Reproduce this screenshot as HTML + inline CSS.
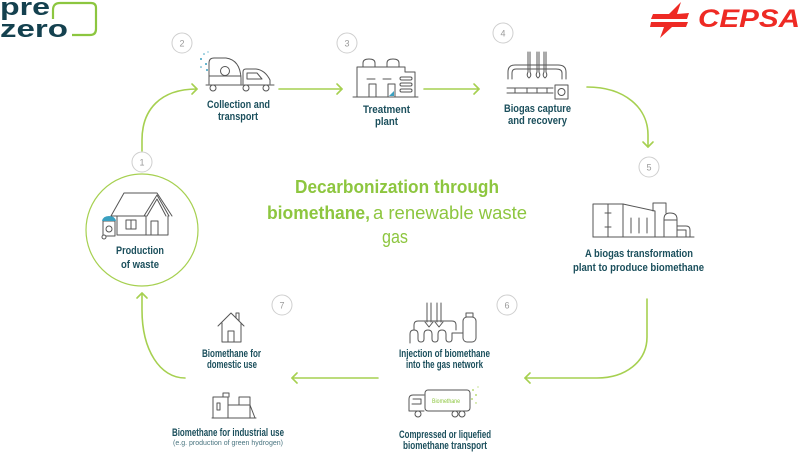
<!DOCTYPE html>
<html><head><meta charset="utf-8"><style>
html,body{margin:0;padding:0;background:#fff;}
svg{display:block;}
.lb{font-family:"Liberation Sans",sans-serif;font-weight:bold;font-size:11px;fill:#1b4f5c;}
.num{font-family:"Liberation Sans",sans-serif;font-size:9px;fill:#9a9a9a;}
.ic{fill:none;stroke:#555;stroke-width:1;stroke-linejoin:round;stroke-linecap:round;}
.ar{fill:none;stroke:#a6d050;stroke-width:1.6;stroke-linecap:round;stroke-linejoin:round;}
.nc{fill:#fff;stroke:#cfcfcf;stroke-width:1;}
</style></head><body>
<svg width="800" height="454" viewBox="0 0 800 454" xmlns="http://www.w3.org/2000/svg">
<!-- prezero logo -->
<text x="0" y="15" font-family="Liberation Sans,sans-serif" font-weight="bold" font-size="24" fill="#14414f" textLength="50" lengthAdjust="spacingAndGlyphs">pre</text>
<text x="0" y="37" font-family="Liberation Sans,sans-serif" font-weight="bold" font-size="24" fill="#14414f" textLength="68" lengthAdjust="spacingAndGlyphs">zero</text>
<path d="M53,19 V10 Q53,3 60,3 H91 Q96,3 96,8 V29 Q96,35 90,35 H72" fill="none" stroke="#8cc63f" stroke-width="2.2"/>
<!-- CEPSA logo -->
<path d="M653,14 L669,14 L681,2 L677,14 L689,13 L687,19 L651,19 Z" fill="#ee2a24"/>
<path d="M651,22 L688,22 L686,27 L672,27 L660,38 L664,27 L650,27 Z" fill="#ee2a24"/>
<text x="698" y="27" font-family="Liberation Sans,sans-serif" font-weight="bold" font-style="italic" font-size="25" fill="#ee2a24" textLength="102" lengthAdjust="spacingAndGlyphs">CEPSA</text>

<!-- arrows -->
<path class="ar" d="M142,151 V140 C142,110 160,89 197,89"/>
<path class="ar" d="M192,84 L197,89 L192,94"/>
<path class="ar" d="M279,89 H342"/><path class="ar" d="M337,84 L342,89 L337,94"/>
<path class="ar" d="M424,89 H479"/><path class="ar" d="M474,84 L479,89 L474,94"/>
<path class="ar" d="M587,87 C625,87 648,108 648,135 V147"/><path class="ar" d="M643,142 L648,147 L653,142"/>
<path class="ar" d="M647,299 V337 C647,362 625,378 597,378 H525"/><path class="ar" d="M530,373 L525,378 L530,383"/>
<path class="ar" d="M378,378 H292"/><path class="ar" d="M297,373 L292,378 L297,383"/>
<path class="ar" d="M185,378 C160,378 142,350 142,310 V293"/><path class="ar" d="M137,298 L142,293 L147,298"/>

<!-- production circle -->
<circle cx="142" cy="230" r="56" fill="#fff" stroke="#a6d050" stroke-width="1.2"/>

<!-- number circles -->
<circle class="nc" cx="142" cy="162" r="10"/><text class="num" x="142" y="165.5" text-anchor="middle">1</text>
<circle class="nc" cx="182" cy="43" r="10"/><text class="num" x="182" y="46.5" text-anchor="middle">2</text>
<circle class="nc" cx="347" cy="43" r="10"/><text class="num" x="347" y="46.5" text-anchor="middle">3</text>
<circle class="nc" cx="503" cy="33" r="10"/><text class="num" x="503" y="36.5" text-anchor="middle">4</text>
<circle class="nc" cx="649" cy="167" r="10"/><text class="num" x="649" y="170.5" text-anchor="middle">5</text>
<circle class="nc" cx="507" cy="305" r="10"/><text class="num" x="507" y="308.5" text-anchor="middle">6</text>
<circle class="nc" cx="282" cy="305" r="10"/><text class="num" x="282" y="308.5" text-anchor="middle">7</text>

<!-- title -->
<text x="295" y="193" font-family="Liberation Sans,sans-serif" font-weight="bold" font-size="18" fill="#8dc63f" textLength="204" lengthAdjust="spacingAndGlyphs">Decarbonization through</text>
<text x="267" y="219" font-family="Liberation Sans,sans-serif" font-weight="bold" font-size="18" fill="#8dc63f" textLength="103" lengthAdjust="spacingAndGlyphs">biomethane,</text>
<text x="373" y="219" font-family="Liberation Sans,sans-serif" font-size="18" fill="#8dc63f" textLength="154" lengthAdjust="spacingAndGlyphs">a renewable waste</text>
<text x="382" y="243" font-family="Liberation Sans,sans-serif" font-size="18" fill="#8dc63f" textLength="26" lengthAdjust="spacingAndGlyphs">gas</text>

<!-- labels -->
<text class="lb" x="207" y="108" textLength="63" lengthAdjust="spacingAndGlyphs">Collection and</text>
<text class="lb" x="218" y="120" textLength="40" lengthAdjust="spacingAndGlyphs">transport</text>
<text class="lb" x="363" y="113" textLength="47" lengthAdjust="spacingAndGlyphs">Treatment</text>
<text class="lb" x="375" y="125" textLength="23" lengthAdjust="spacingAndGlyphs">plant</text>
<text class="lb" x="504" y="112" textLength="67" lengthAdjust="spacingAndGlyphs">Biogas capture</text>
<text class="lb" x="508" y="124" textLength="59" lengthAdjust="spacingAndGlyphs">and recovery</text>
<text class="lb" x="116" y="254" textLength="48" lengthAdjust="spacingAndGlyphs">Production</text>
<text class="lb" x="121" y="268" textLength="38" lengthAdjust="spacingAndGlyphs">of waste</text>
<text class="lb" x="585" y="257" textLength="108" lengthAdjust="spacingAndGlyphs">A biogas transformation</text>
<text class="lb" x="573" y="271" textLength="131" lengthAdjust="spacingAndGlyphs">plant to produce biomethane</text>
<text class="lb" x="399" y="357" font-size="10" textLength="91" lengthAdjust="spacingAndGlyphs">Injection of biomethane</text>
<text class="lb" x="406" y="368" font-size="10" textLength="77" lengthAdjust="spacingAndGlyphs">into the gas network</text>
<text class="lb" x="399" y="438" font-size="10" textLength="92" lengthAdjust="spacingAndGlyphs">Compressed or liquefied</text>
<text class="lb" x="403" y="449" font-size="10" textLength="84" lengthAdjust="spacingAndGlyphs">biomethane transport</text>
<text class="lb" x="202" y="357" font-size="10" textLength="59" lengthAdjust="spacingAndGlyphs">Biomethane for</text>
<text class="lb" x="207" y="368" font-size="10" textLength="50" lengthAdjust="spacingAndGlyphs">domestic use</text>
<text class="lb" x="172" y="436" font-size="10" textLength="112" lengthAdjust="spacingAndGlyphs">Biomethane for industrial use</text>
<text x="173" y="445" font-family="Liberation Sans,sans-serif" font-size="7" fill="#4a7580" textLength="110" lengthAdjust="spacingAndGlyphs">(e.g. production of green hydrogen)</text>

<!-- icon: collection truck -->
<g class="ic">
<path d="M209,84 V63 Q209,58 214,58 H226 Q240,60 241,78 V84"/>
<path d="M209,76 H241"/>
<circle cx="225" cy="71" r="4.5"/>
<path d="M243,84 V72 Q243,69 246,69 H256 Q265,70 270,80 V84"/>
<path d="M247,73 H257 L262,79 H247 Z"/>
<path d="M206,85 H274"/>
<circle cx="213" cy="88" r="3" fill="#fff"/><circle cx="246" cy="88" r="3" fill="#fff"/><circle cx="266" cy="88" r="3" fill="#fff"/>
</g>
<g fill="#3aa0c0"><circle cx="201" cy="59" r="1"/><circle cx="204" cy="54" r="0.8"/><circle cx="206" cy="64" r="1"/><circle cx="201" cy="67" r="0.8"/><circle cx="207" cy="70" r="1"/><circle cx="208" cy="52" r="0.6"/></g>

<!-- icon: treatment plant -->
<g class="ic">
<path d="M353,97 H418"/>
<path d="M357,97 V67 H405 V72 H415 V97"/>
<path d="M363,67 V63 Q363,59 369,59 Q375,59 375,63 V67"/>
<path d="M387,67 V63 Q387,59 393,59 Q399,59 399,63 V67"/>
<path d="M367,79 H375 M383,79 H391"/>
<rect x="369" y="84" width="7" height="13"/><rect x="388" y="84" width="7" height="13"/>
<rect x="400" y="77" width="12" height="3" rx="1.5"/><rect x="400" y="83" width="12" height="3" rx="1.5"/><rect x="400" y="89" width="12" height="3" rx="1.5"/>
</g>
<path d="M389,96 L394,91 L394,96 Z" fill="#3aa0c0"/>

<!-- icon: biogas capture -->
<g class="ic">
<path d="M508,79 V72 Q508,65 515,65 H558 Q566,65 566,72 V79"/>
<path d="M512,79 V73 Q512,69 516,69 H556 Q562,69 562,73 V79"/>
<path d="M528,52 V72 Q526,76 529,78 Q532,76 530,72 V52"/>
<path d="M537,52 V72 Q535,76 538,78 Q541,76 539,72 V52"/>
<path d="M544,52 V72 Q542,76 545,78 Q548,76 546,72 V52"/>
<path d="M507,88 H553 M507,93 H553 M515,88 V93 M527,88 V93 M537,88 V93 M547,88 V93"/>
<rect x="555" y="85" width="13" height="14"/>
<circle cx="561.5" cy="92" r="3.5"/>
</g>

<!-- icon: biogas plant -->
<g class="ic">
<path d="M593,237 H694"/>
<rect x="593" y="204" width="30" height="33"/>
<path d="M608,204 V237 M605,213 H611 M605,227 H611"/>
<path d="M623,204 L655,211 V237"/>
<path d="M631,218 V233 M639,218 V233 M647,218 V233"/>
<path d="M653,211 V203 H666 V213"/>
<path d="M664,237 V219 Q664,213 670,213 Q677,213 677,219 V237"/>
<path d="M664,220 H677"/>
<path d="M677,226 H686 Q690,226 690,230 V237 M677,230 H686 V237"/>
</g>

<!-- icon: production house -->
<g class="ic">
<path d="M111,216 L124,193 H157 L172,216"/>
<path d="M144,216 L157,195 L169,216"/>
<path d="M147,216 L157,199 L166,216"/>
<path d="M111,216 H146"/>
<path d="M117,216 V235 H168 V216 M146,216 V235"/>
<rect x="126" y="220" width="10" height="9"/><path d="M131,220 V229"/>
<rect x="151" y="221" width="7" height="14"/>
<rect x="103" y="221" width="12" height="15"/>
<circle cx="109" cy="229" r="3"/>
<circle cx="104" cy="237" r="2" fill="#fff"/>
</g>
<path d="M102,221 Q103,216 109,216 Q115,216 116,221 Z" fill="#3aa0c0"/>

<!-- icon: injection -->
<g class="ic">
<path d="M427,303 V322 M431,303 V322 M437,303 V322 M441,303 V322"/>
<path d="M425,322 L429,327 L433,322 M435,322 L439,327 L443,322"/>
<path d="M414,330 V325 Q414,321 418,321 H452 Q456,321 456,325 V330"/>
<path d="M410,343 V334 Q410,330 414,330 Q418,330 418,334 V339 Q418,342 421,342 Q424,342 424,339 V334 Q424,330 428,330 Q432,330 432,334 V339 Q432,342 435,342 Q438,342 438,339 V334 Q438,330 442,330 Q446,330 446,334 V339 Q446,342 449,342 Q452,342 452,339 V333 H463"/>
<rect x="463" y="317" width="13" height="25" rx="4"/>
<rect x="466" y="313" width="7" height="4"/>
</g>

<!-- icon: biomethane truck -->
<g class="ic">
<path d="M424,411 H409 V399 Q409,395 413,395 H424"/>
<path d="M413,399 H421 V404 H412"/>
<rect x="425" y="390" width="45" height="21" rx="3"/>
<circle cx="418" cy="414" r="3" fill="#fff"/><circle cx="455" cy="414" r="3" fill="#fff"/><circle cx="462" cy="414" r="3" fill="#fff"/>
</g>
<text x="432" y="403" font-family="Liberation Sans,sans-serif" font-size="6" fill="#8dc63f" textLength="28" lengthAdjust="spacingAndGlyphs">Biomethane</text>
<g fill="#a6d050"><circle cx="473" cy="390" r="0.9"/><circle cx="476" cy="395" r="0.9"/><circle cx="472" cy="399" r="0.9"/><circle cx="476" cy="403" r="0.7"/><circle cx="478" cy="387" r="0.6"/></g>

<!-- icon: domestic house -->
<g class="ic">
<path d="M218,326 L231,313 L244,326"/>
<path d="M222,323 V342 H241 V323"/>
<rect x="228" y="331" width="6" height="11"/>
<path d="M236,318 V313 H239 V321"/>
</g>

<!-- icon: industrial -->
<g class="ic">
<path d="M212,418 H256"/>
<path d="M213,418 V397 H228 V418"/>
<rect x="217" y="403" width="3" height="7"/>
<path d="M223,397 V393 H229 V397"/>
<path d="M228,405 H250 V418"/>
<path d="M239,405 V397 H250 V405 L255,418"/>
</g>
</svg>
</body></html>
